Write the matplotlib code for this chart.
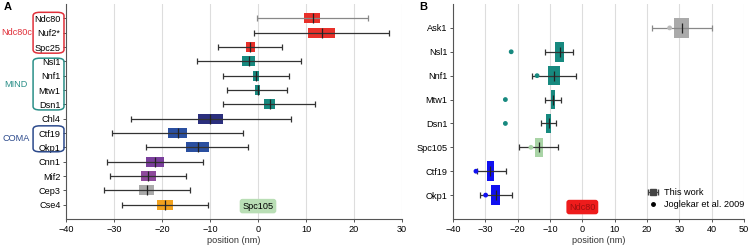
import matplotlib
matplotlib.use('Agg')
import matplotlib.pyplot as plt
from matplotlib.patches import FancyBboxPatch
from matplotlib.transforms import blended_transform_factory

plt.rcParams['font.family'] = ['Liberation Sans', 'DejaVu Sans']
plt.rcParams['font.size'] = 6.6

# panel A data (nm)
a_names = ['Ndc80', 'Nuf2*', 'Spc25', 'Nsl1', 'Nnf1', 'Mtw1', 'Dsn1', 'Chl4',
           'Ctf19', 'Okp1', 'Cnn1', 'Mif2', 'Cep3', 'Cse4']
a_q1 = [9.6, 10.5, -2.5, -3.3, -1.0, -0.6, 1.25, -12.4, -18.8, -15.1, -23.3, -24.3, -24.8, -21.0]
a_q3 = [12.9, 16.0, -0.55, -0.55, 0.3, 0.35, 3.5, -7.2, -14.7, -10.3, -19.6, -21.3, -21.7, -17.8]
a_med = [11.4, 13.4, -1.6, -1.9, -0.35, -0.1, 2.4, -9.9, -16.7, -12.6, -21.4, -22.9, -23.2, -19.4]
a_lo = [-0.3, -0.8, -8.3, -12.8, -7.2, -6.4, -7.2, -26.5, -30.5, -23.4, -31.5, -30.8, -32.1, -28.4]
a_hi = [23.0, 27.3, 5.1, 9.0, 6.5, 6.1, 11.8, 6.8, -3.2, -2.0, -11.5, -14.9, -14.2, -10.5]
a_colors = ['#e8302a', '#e8302a', '#e8302a', '#17897f', '#17897f', '#17897f', '#17897f',
            '#2b2f7d', '#2a4fa0', '#2a4fa0', '#7a3f9c', '#8e4a9c', '#aaaaaa', '#f2a21e']

# panel B data (nm)
b_names = ['Ask1', 'Nsl1', 'Nnf1', 'Mtw1', 'Dsn1', 'Spc105', 'Ctf19', 'Okp1']
b_q1 = [28.4, -8.3, -10.6, -9.8, -11.1, -14.7, -29.5, -28.3]
b_q3 = [33.0, -5.6, -6.9, -8.6, -9.7, -12.3, -27.2, -25.4]
b_med = [30.7, -7.0, -8.8, -9.2, -10.3, -13.5, -28.5, -26.8]
b_lo = [21.5, -11.4, -15.6, -11.7, -12.7, -19.5, -32.5, -31.7]
b_hi = [40.0, -2.8, -1.9, -6.7, -8.2, -7.5, -23.6, -21.9]
b_jog = [27.0, -22.0, -14.0, -23.8, -23.8, -15.9, -32.9, -29.9]
b_colors = ['#aaaaaa', '#17897f', '#17897f', '#17897f', '#17897f', '#a9d4a6', '#1010f0', '#1010f0']
b_jog_colors = ['#bbbbbb', '#17897f', '#17897f', '#17897f', '#17897f', '#a9d4a6', '#1010f0', '#1010f0']

fig = plt.figure(figsize=(7.49, 2.47), dpi=100)
axA = fig.add_axes([66 / 749, 28 / 247, 336 / 749, 215 / 247])
axB = fig.add_axes([453 / 749, 28 / 247, 291 / 749, 215 / 247])


def style(ax, n):
    for s in ['top', 'right']:
        ax.spines[s].set_visible(False)
    ax.spines['left'].set_color('#555555')
    ax.spines['bottom'].set_color('#555555')
    ax.set_ylim(n, -1)
    ax.grid(axis='x', color='#dddddd', lw=0.8)
    ax.set_axisbelow(True)
    ax.tick_params(length=2.5, width=0.7, color='#555555', pad=1.5)
    ax.set_xlabel('position (nm)', labelpad=2, color='#333333')


def draw(ax, names, q1, q3, med, lo, hi, colors, h, wcols):
    ys = list(range(len(names)))
    widths = [b - a for a, b in zip(q1, q3)]
    ax.barh(ys, widths, left=q1, height=h, color=colors, zorder=2)
    for y, m, l, u, wc in zip(ys, med, lo, hi, wcols):
        ax.errorbar(m, y, xerr=[[m - l], [u - m]], fmt='none', ecolor=wc,
                    elinewidth=0.9, capsize=2, capthick=0.9, zorder=3)
    ax.plot(med, ys, ls='none', marker='|', ms=7, mew=0.9, color='#222222', zorder=4)
    ax.set_yticks(ys)
    ax.set_yticklabels(names)


# panel A
draw(axA, a_names, a_q1, a_q3, a_med, a_lo, a_hi, a_colors, 0.7,
     ['#888888'] + ['#333333'] * 13)
style(axA, len(a_names))
axA.set_xlim(-40, 30)
axA.set_xticks([-40, -30, -20, -10, 0, 10, 20, 30])
axA.text(0, 13.1, 'Spc105', ha='center', va='center', zorder=5,
         bbox=dict(boxstyle='round,pad=0.3', fc='#b9deb5', ec='none'))

tr = blended_transform_factory(axA.transAxes, axA.transData)
groups = [('Ndc80c', -0.42, 2.43, '#e0303a'), ('MIND', 2.78, 6.39, '#2a8f88'),
          ('COMA', 7.5, 9.31, '#2c4a8c')]
for label, y0, y1, col in groups:
    box = FancyBboxPatch((-0.098, y0), 0.092, y1 - y0, boxstyle='round,pad=0,rounding_size=0.02',
                         transform=tr, fc='none', ec=col, lw=1.1, clip_on=False,
                         mutation_aspect=12)
    axA.add_patch(box)
    axA.text(-0.148, (y0 + y1) / 2, label, transform=tr, ha='center', va='center', color=col)

fig.text(4 / 749, 1 - 7 / 247, 'A', fontweight='bold', fontsize=8, va='center')
fig.text(419 / 749, 1 - 7 / 247, 'B', fontweight='bold', fontsize=8, va='center')

# panel B
draw(axB, b_names, b_q1, b_q3, b_med, b_lo, b_hi, b_colors, 0.82,
     ['#888888'] + ['#333333'] * 7)
axB.scatter(b_jog, range(len(b_names)), s=6, c=b_jog_colors, zorder=5)
style(axB, len(b_names))
axB.set_xlim(-40, 50)
axB.set_xticks([-40, -30, -20, -10, 0, 10, 20, 30, 40, 50])
axB.text(0, 7.5, 'Ndc80', ha='center', va='center', color='#a01010', zorder=5,
         bbox=dict(boxstyle='round,pad=0.3', fc='#ee1c1c', ec='none'))

hw = axB.errorbar([float('nan')], [float('nan')], xerr=[1], fmt='s', color='#444444', ms=5,
                  capsize=2, elinewidth=0.9)
hj, = axB.plot([], [], 'o', color='black', ms=2.5)
leg = axB.legend([hw, hj], ['This work', 'Joglekar et al. 2009'], loc='lower right',
                 bbox_to_anchor=(1.02, 0.02), frameon=False, handlelength=1.8, handletextpad=0.3,
                 labelspacing=0.3, borderaxespad=0.2)

fig.savefig('out.png', dpi=100)
